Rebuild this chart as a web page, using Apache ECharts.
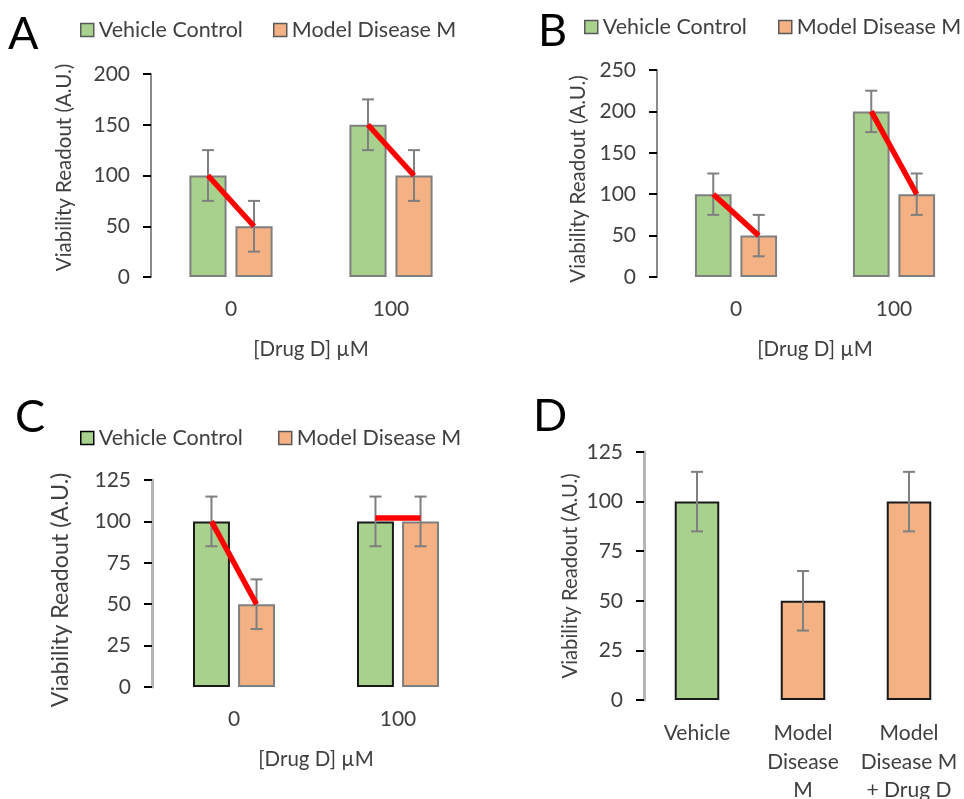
<!DOCTYPE html>
<html>
<head>
<meta charset="utf-8">
<script src="https://cdn.jsdelivr.net/npm/echarts@6/dist/echarts.min.js"></script>
<style>
html,body{margin:0;padding:0;background:#fff;}
#chart{width:964px;height:799px;}
</style>
</head>
<body>
<div id="chart"></div>
<script>
// ---------- data ----------
const seriesNames = ['Vehicle Control', 'Model Disease M'];
const catsABC = ['0', '100'];
const xNameABC = '[Drug D] \u00B5M';
const yName = 'Viability Readout (A.U.)';

// Panel A
const vehA = [100, 150];
const vehErrA = [25, 25];
const disA = [50, 100];
const disErrA = [25, 25];
const trendA = [[100, 50], [150, 100]];
const yRangeA = [0, 200, 50];

// Panel B
const vehB = [100, 200];
const vehErrB = [25, 25];
const disB = [50, 100];
const disErrB = [25, 25];
const trendB = [[100, 50], [200, 100]];
const yRangeB = [0, 250, 50];

// Panel C
const vehC = [100, 100];
const vehErrC = [15, 15];
const disC = [50, 100];
const disErrC = [15, 15];
const trendC = [[100, 50], [102, 102]];
const yRangeC = [0, 125, 25];

// Panel D
const catsD = ['Vehicle', 'Model\nDisease\nM', 'Model\nDisease M\n+ Drug D'];
const valsD = [100, 50, 100];
const errD = [15, 15, 15];
const yRangeD = [0, 125, 25];

const panelLetters = ['A', 'B', 'C', 'D'];

// ---------- styles ----------
const FONT = 'Lato';
const GREEN = '#a9d18e';
const ORANGE = '#f4b183';
const TXT = '#404040';
const ERRC = '#7f7f7f';

const grids = [
  {left: 151, right: 493, top: 74, bottom: 522},
  {left: 657, right: -9, top: 70, bottom: 522},
  {left: 152, right: 484, top: 480, bottom: 112},
  {left: 644, right: 2, top: 452, bottom: 99}
];
const layout = [
  {catGap: 0.48, barGap: 0.24},
  {catGap: 0.48, barGap: 0.24},
  {catGap: 0.50, barGap: 0.22},
  {catGap: 0.58, barGap: 0}
];
const yRanges = [yRangeA, yRangeB, yRangeC, yRangeD];
const axisLineColor = ['#8a8a8a', '#8a8a8a', '#b5b5b5', '#b5b5b5'];
const axisLineWidth = [2, 2, 3, 3];
const yNameGap = [76, 68, 80, 64];
const yNameSize = [20.5, 20.5, 23.2, 20.3];
const yNamePad = [[0, 0, 0, 16], [0, 11, 0, 0], [0, 13, 0, 0], [0, 0, 0, 0]];

function offsetFor(band, idx, n, lay) {
  if (n < 2) return 0;
  const w = band * (1 - lay.catGap) / (2 + lay.barGap);
  return (idx === 0 ? -1 : 1) * w * (1 + lay.barGap) / 2;
}

function errSeries(gi, vals, errs, slot, nSlots) {
  const lay = layout[gi];
  return {
    type: 'custom',
    xAxisIndex: gi, yAxisIndex: gi,
    z: 5,
    silent: true,
    encode: {x: 0, y: 1},
    data: vals.map((v, i) => [i, v, errs[i]]),
    renderItem: function (params, api) {
      const cat = api.value(0), v = api.value(1), e = api.value(2);
      const band = api.size([1, 0])[0];
      const off = offsetFor(band, slot, nSlots, lay);
      const t = api.coord([cat, v + e]);
      const b = api.coord([cat, v - e]);
      const x = t[0] + off;
      const cw = 6;
      const st = {stroke: ERRC, lineWidth: 2};
      return {
        type: 'group',
        children: [
          {type: 'line', shape: {x1: x, y1: t[1], x2: x, y2: b[1]}, style: st},
          {type: 'line', shape: {x1: x - cw, y1: t[1], x2: x + cw, y2: t[1]}, style: st},
          {type: 'line', shape: {x1: x - cw, y1: b[1], x2: x + cw, y2: b[1]}, style: st}
        ]
      };
    }
  };
}

function trendSeries(gi, trend) {
  const lay = layout[gi];
  return {
    type: 'custom',
    xAxisIndex: gi, yAxisIndex: gi,
    z: 6,
    silent: true,
    encode: {x: 0, y: 1},
    data: trend.map((p, i) => [i, p[0], p[1]]),
    renderItem: function (params, api) {
      const cat = api.value(0);
      const band = api.size([1, 0])[0];
      const o0 = offsetFor(band, 0, 2, lay);
      const o1 = offsetFor(band, 1, 2, lay);
      const p1 = api.coord([cat, api.value(1)]);
      const p2 = api.coord([cat, api.value(2)]);
      return {
        type: 'line',
        shape: {x1: p1[0] + o0, y1: p1[1], x2: p2[0] + o1, y2: p2[1]},
        style: {stroke: '#ff0000', lineWidth: 5.5, lineCap: 'butt'}
      };
    }
  };
}

function barSeries(gi, name, vals, color, border) {
  return {
    type: 'bar', name: name,
    xAxisIndex: gi, yAxisIndex: gi,
    data: vals,
    barCategoryGap: (layout[gi].catGap * 100) + '%',
    barGap: (layout[gi].barGap * 100) + '%',
    itemStyle: {color: color, borderColor: border, borderWidth: 2},
    emphasis: {disabled: true},
    z: 2
  };
}

const xAxes = [], yAxes = [];
for (let gi = 0; gi < 4; gi++) {
  const isD = gi === 3;
  xAxes.push({
    type: 'category', gridIndex: gi,
    data: isD ? catsD : catsABC,
    name: isD ? '' : xNameABC,
    nameLocation: 'middle', nameGap: 62,
    nameTextStyle: {fontFamily: FONT, fontSize: 20.5, color: TXT},
    axisLine: {show: false}, axisTick: {show: false},
    axisLabel: {fontFamily: FONT, fontSize: 21, color: TXT, margin: isD ? 19 : 18, interval: 0, lineHeight: 28.5},
    splitLine: {show: false}
  });
  const r = yRanges[gi];
  yAxes.push({
    type: 'value', gridIndex: gi,
    min: r[0], max: r[1], interval: r[2],
    name: yName, nameLocation: 'middle', nameGap: yNameGap[gi], nameRotate: 90,
    nameTextStyle: {fontFamily: FONT, fontSize: yNameSize[gi], color: TXT, padding: yNamePad[gi]},
    axisLine: {show: true, lineStyle: {color: axisLineColor[gi], width: axisLineWidth[gi]}},
    axisTick: {show: true, inside: false, length: 8, lineStyle: {color: '#000', width: 2}},
    axisLabel: {fontFamily: FONT, fontSize: 21, color: TXT, margin: 21},
    splitLine: {show: false}
  });
}

function legendItem(left, top, name, color, border) {
  return {
    left: left, top: top, orient: 'horizontal',
    padding: 0,
    selectedMode: false,
    itemWidth: 13, itemHeight: 13, itemGap: 0,
    icon: 'rect',
    textStyle: {fontFamily: FONT, fontSize: 21.5, color: TXT},
    data: [{name: name, icon: 'rect', itemStyle: {color: color, borderColor: border, borderWidth: 1.5}}]
  };
}

const legends = [
  legendItem(80, 19, seriesNames[0], GREEN, '#595959'),
  legendItem(273, 19, seriesNames[1], ORANGE, '#595959'),
  legendItem(584, 16, seriesNames[0], GREEN, '#595959'),
  legendItem(778, 16, seriesNames[1], ORANGE, '#595959'),
  legendItem(80, 427, seriesNames[0], GREEN, '#000'),
  legendItem(278, 427, seriesNames[1], ORANGE, '#595959')
];

const titleStyle = {fontFamily: FONT, fontSize: 45, fontWeight: 'normal', color: '#000'};
const titles = [
  {text: panelLetters[0], left: 8, top: 12, textStyle: titleStyle, padding: 0},
  {text: panelLetters[1], left: 538, top: 9, textStyle: titleStyle, padding: 0},
  {text: panelLetters[2], left: 15, top: 395, textStyle: titleStyle, padding: 0},
  {text: panelLetters[3], left: 533, top: 394, textStyle: titleStyle, padding: 0}
];

const series = [
  barSeries(0, seriesNames[0], vehA, GREEN, '#7f7f7f'),
  barSeries(0, seriesNames[1], disA, ORANGE, '#7f7f7f'),
  errSeries(0, vehA, vehErrA, 0, 2),
  errSeries(0, disA, disErrA, 1, 2),
  trendSeries(0, trendA),

  barSeries(1, seriesNames[0], vehB, GREEN, '#7f7f7f'),
  barSeries(1, seriesNames[1], disB, ORANGE, '#7f7f7f'),
  errSeries(1, vehB, vehErrB, 0, 2),
  errSeries(1, disB, disErrB, 1, 2),
  trendSeries(1, trendB),

  barSeries(2, seriesNames[0], vehC, GREEN, '#1a1a1a'),
  barSeries(2, seriesNames[1], disC, ORANGE, '#7f7f7f'),
  errSeries(2, vehC, vehErrC, 0, 2),
  errSeries(2, disC, disErrC, 1, 2),
  trendSeries(2, trendC),

  {
    type: 'bar', name: 'D',
    xAxisIndex: 3, yAxisIndex: 3,
    barCategoryGap: '58%',
    data: valsD.map((v, i) => ({value: v, itemStyle: {color: i === 0 ? GREEN : ORANGE}})),
    itemStyle: {borderColor: '#1a1a1a', borderWidth: 2},
    emphasis: {disabled: true},
    z: 2
  },
  errSeries(3, valsD, errD, 0, 1)
];

const chart = echarts.init(document.getElementById('chart'), null, {renderer: 'canvas'});
chart.setOption({
  animation: false,
  backgroundColor: '#fff',
  title: titles,
  legend: legends,
  grid: grids.map(g => Object.assign({outerBoundsMode: 'none', containLabel: false}, g)),
  xAxis: xAxes,
  yAxis: yAxes,
  series: series
});
</script>
</body>
</html>
